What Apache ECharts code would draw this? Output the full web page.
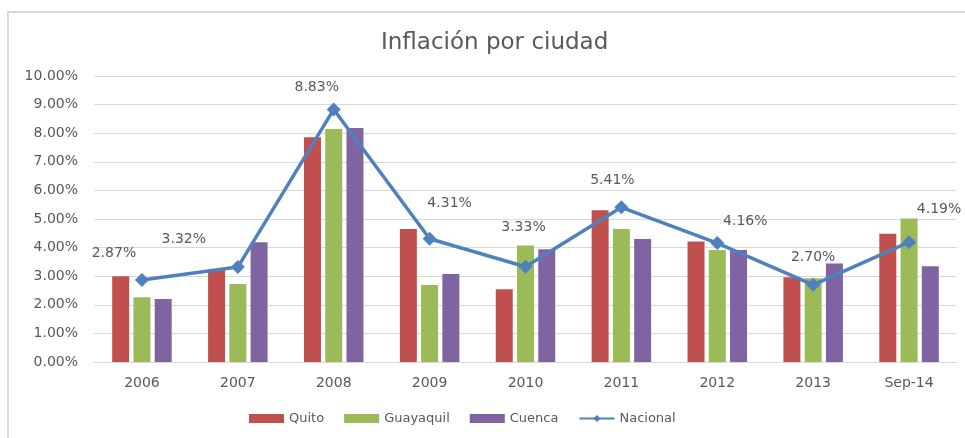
<!DOCTYPE html>
<html>
<head>
<meta charset="utf-8">
<script src="https://cdn.jsdelivr.net/npm/echarts@6/dist/echarts.min.js"></script>
<style>
  html, body { margin: 0; padding: 0; background: #fff; }
  #main { width: 965px; height: 438px; }
</style>
</head>
<body>
<div id="main"></div>
<script>
// datos (en %)
var years = ['2006', '2007', '2008', '2009', '2010', '2011', '2012', '2013', 'Sep-14'];
var quito = [3.00, 3.22, 7.86, 4.65, 2.54, 5.31, 4.21, 2.96, 4.48];
var guayaquil = [2.26, 2.73, 8.15, 2.69, 4.07, 4.65, 3.92, 2.93, 5.02];
var cuenca = [2.20, 4.19, 8.18, 3.08, 3.94, 4.30, 3.92, 3.44, 3.35];
var nacional = [2.87, 3.32, 8.83, 4.31, 3.33, 5.41, 4.16, 2.70, 4.19];

// desplazamiento de las etiquetas del nacional (como en excel)
var labelOffsets = [[-28, -27], [-54, -28], [-17, -22], [20, -35], [-2, -39],
                    [-9, -27], [28, -22], [0, -27], [30, -33]];

var txt = '#595959';
var font = 'DejaVu Sans';

var myChart = echarts.init(document.getElementById('main'));

myChart.setOption({
  animation: false,
  textStyle: { fontFamily: font, color: txt },
  title: {
    text: 'Inflación por ciudad',
    left: 376,
    top: 27,
    textStyle: { fontFamily: font, fontSize: 23, fontWeight: 'normal', color: txt }
  },
  graphic: [{
    type: 'polyline',
    shape: { points: [[8, 438], [8, 12], [965, 12]] },
    style: { stroke: '#d9d9d9', lineWidth: 2, fill: null }
  }],
  legend: {
    bottom: 8,
    left: 244,
    itemWidth: 35,
    itemHeight: 9,
    itemGap: 20,
    textStyle: { fontFamily: font, fontSize: 13, color: txt },
    data: [
      { name: 'Quito', icon: 'rect' },
      { name: 'Guayaquil', icon: 'rect' },
      { name: 'Cuenca', icon: 'rect' },
      'Nacional'
    ]
  },
  grid: {
    left: 94,
    right: 8,
    top: 76,
    bottom: 76
  },
  xAxis: {
    type: 'category',
    data: years,
    axisTick: { show: false },
    axisLine: { lineStyle: { color: '#d9d9d9' } },
    axisLabel: { fontFamily: font, fontSize: 14, color: txt, margin: 14 }
  },
  yAxis: {
    type: 'value',
    min: 0,
    max: 10,
    interval: 1,
    axisLine: { show: false },
    axisTick: { show: false },
    splitLine: { lineStyle: { color: '#d9d9d9' } },
    axisLabel: {
      fontFamily: font, fontSize: 14, color: txt, margin: 16,
      formatter: function (v) { return v.toFixed(2) + '%'; }
    }
  },
  series: [{
    name: 'Quito',
    type: 'bar',
    data: quito,
    barWidth: 17,
    barGap: '25%',
    itemStyle: { color: '#c0504d' }
  }, {
    name: 'Guayaquil',
    type: 'bar',
    data: guayaquil,
    barWidth: 17,
    barGap: '25%',
    itemStyle: { color: '#9bbb59' }
  }, {
    name: 'Cuenca',
    type: 'bar',
    data: cuenca,
    barWidth: 17,
    barGap: '25%',
    itemStyle: { color: '#8064a2' }
  }, {
    name: 'Nacional',
    type: 'line',
    data: nacional.map(function (v, i) {
      return { value: v, label: { offset: labelOffsets[i] } };
    }),
    symbol: 'diamond',
    symbolSize: 14,
    lineStyle: { color: '#4f81bd', width: 3.5 },
    itemStyle: { color: '#4f81bd' },
    label: {
      show: true,
      position: 'inside',
      fontFamily: font,
      fontSize: 14,
      color: txt,
      formatter: function (p) { return p.value.toFixed(2) + '%'; }
    },
    z: 5
  }]
});
</script>
</body>
</html>
